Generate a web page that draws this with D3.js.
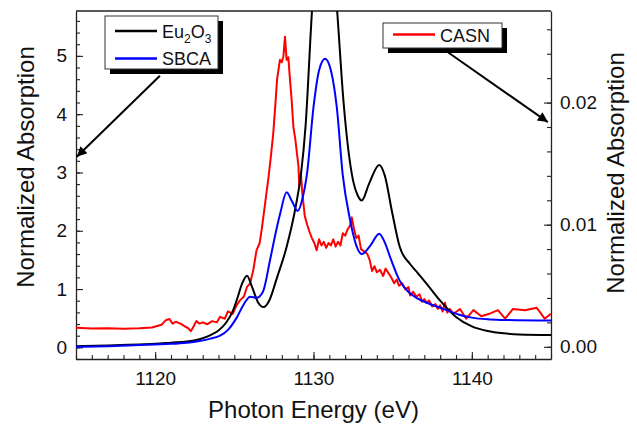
<!DOCTYPE html>
<html>
<head>
<meta charset="utf-8">
<script src="https://cdn.jsdelivr.net/npm/d3@7"></script>
<style>
  body { margin: 0; background: #fff; }
  svg { display: block; font-family: "Liberation Sans", Arial, sans-serif; }
</style>
</head>
<body>
<div id="chart"></div>
<script>
// Eu M-edge absorption: Eu2O3 and SBCA on the left axis, CASN on the right axis

const euEnergy = [1115, 1117, 1119, 1120, 1121, 1122, 1122.8, 1123.5, 1124, 1124.5, 1124.9, 1125.2, 1125.5, 1125.8,
  1126.1, 1126.5, 1126.85, 1127.2, 1127.7, 1128.3, 1128.9, 1129.2, 1129.5, 1129.9, 1130.3, 1130.7, 1131.1, 1131.5,
  1131.9, 1132.5, 1132.8, 1133.05, 1133.5, 1134.15, 1134.5, 1134.95, 1135.45, 1136.1, 1136.6, 1137.15, 1138, 1139,
  1140, 1141, 1142, 1143, 1145]
const euValue = [0.02, 0.03, 0.05, 0.06, 0.08, 0.10, 0.14, 0.21, 0.29, 0.43, 0.62, 0.85, 1.1, 1.23,
  1.05, 0.77, 0.69, 0.8, 1.2, 1.72, 2.45, 2.95, 3.8, 5.75, 7.2, 7.7, 7.2, 5.75,
  4.2, 2.86, 2.6, 2.52, 2.8, 3.13, 2.95, 2.34, 1.72, 1.43, 1.27, 1.09, 0.8, 0.52,
  0.36, 0.28, 0.24, 0.22, 0.21]

const sbcaEnergy = [1115, 1117, 1119, 1120, 1121, 1122, 1122.8, 1123.5, 1124.1, 1124.6, 1125.15, 1125.6, 1126.0,
  1126.4, 1126.8, 1127.25, 1127.6, 1127.9, 1128.3, 1128.65, 1129.0, 1129.3, 1129.6, 1130.0, 1130.35, 1130.73,
  1131.1, 1131.47, 1131.85, 1132.3, 1132.7, 1133.05, 1133.6, 1134.15, 1134.5, 1134.85, 1135.45, 1136.0, 1136.5,
  1137.2, 1138, 1139.2, 1140, 1141, 1142, 1145]
const sbcaValue = [0.01, 0.02, 0.04, 0.05, 0.06, 0.08, 0.11, 0.15, 0.2, 0.3, 0.51, 0.74, 0.87,
  0.85, 0.95, 1.49, 1.95, 2.3, 2.66, 2.5, 2.34, 2.55, 3.0, 4.12, 4.75, 4.95,
  4.75, 4.12, 2.95, 2.2, 1.75, 1.6, 1.75, 1.95, 1.8, 1.54, 1.14, 0.95, 0.85,
  0.76, 0.68, 0.56, 0.51, 0.48, 0.47, 0.46]

const casnEnergy = [1115, 1116, 1117, 1118, 1119, 1119.8, 1120.4, 1120.7, 1120.9, 1121.1, 1121.3, 1121.6, 1121.9,
  1122.1, 1122.25, 1122.4, 1122.6, 1122.8, 1123.0, 1123.3, 1123.6, 1123.9, 1124.1, 1124.4, 1124.6, 1124.9, 1125.1,
  1125.35, 1125.6, 1125.8, 1126.0, 1126.2, 1126.4, 1126.6, 1126.75, 1126.95, 1127.15, 1127.3, 1127.46, 1127.6,
  1127.7, 1127.88, 1128.0, 1128.1, 1128.2, 1128.3, 1128.41, 1128.52, 1128.62, 1128.73, 1128.85, 1128.94, 1129.05,
  1129.1, 1129.2, 1129.3, 1129.45, 1129.6, 1129.75, 1129.9, 1130.05, 1130.2, 1130.35, 1130.5, 1130.65, 1130.8,
  1130.95, 1131.1, 1131.25, 1131.4, 1131.55, 1131.7, 1131.85, 1132.0, 1132.15, 1132.3, 1132.42, 1132.55, 1132.7,
  1132.85, 1133.0, 1133.2, 1133.4, 1133.55, 1133.7, 1133.85, 1134.0, 1134.2, 1134.4, 1134.55, 1134.7, 1134.9,
  1135.1, 1135.25, 1135.4, 1135.6, 1135.8, 1136.0, 1136.1, 1136.3, 1136.5, 1136.7, 1136.85, 1137.0, 1137.15,
  1137.3, 1137.5, 1137.7, 1137.85, 1138.0, 1138.15, 1138.3, 1138.45, 1138.6, 1138.85, 1139.25, 1139.65, 1140.1,
  1140.6, 1141.1, 1141.65, 1142.1, 1142.6, 1143.35, 1144.1, 1144.6, 1145]
const casnValue = [0.00155, 0.0015, 0.00152, 0.00148, 0.00152, 0.00158, 0.0018, 0.0022, 0.00228, 0.0019, 0.00205, 0.0019, 0.00165,
  0.0015, 0.00128, 0.0016, 0.0021, 0.0019, 0.002, 0.00185, 0.0021, 0.002, 0.00245, 0.0023, 0.0029, 0.0027, 0.0033,
  0.0038, 0.0041, 0.0049, 0.0052, 0.0063, 0.0079, 0.0085, 0.0098, 0.0118, 0.0138, 0.0155, 0.0175, 0.02,
  0.0219, 0.0235, 0.0233, 0.0238, 0.0254, 0.0235, 0.0237, 0.0218, 0.0202, 0.018, 0.017, 0.016, 0.0148,
  0.0132, 0.0142, 0.0125, 0.0107, 0.01, 0.0094, 0.0089, 0.0085, 0.0079, 0.0088, 0.0083, 0.0086, 0.0081,
  0.0085, 0.0083, 0.0088, 0.0082, 0.0086, 0.0083, 0.0093, 0.0091, 0.0096, 0.0099, 0.0106, 0.0097, 0.0089,
  0.0091, 0.008, 0.0078, 0.0076, 0.0071, 0.0062, 0.0066, 0.0061, 0.0063, 0.0058, 0.0064, 0.0061, 0.0057,
  0.0052, 0.0055, 0.005, 0.0052, 0.0047, 0.0049, 0.0042, 0.0045, 0.0041, 0.0043, 0.0037, 0.0039, 0.0036,
  0.0038, 0.0033, 0.0035, 0.0031, 0.0034, 0.0029, 0.0036, 0.0028, 0.0031, 0.0027, 0.0031, 0.0023, 0.003,
  0.0025, 0.0027, 0.003, 0.0023, 0.0031, 0.003, 0.0032, 0.0023, 0.0027]

const xTicks = [1120, 1130, 1140]
const leftTicks = [0, 1, 2, 3, 4, 5]
const rightTicks = [0, 0.01, 0.02]

const W = 637, H = 425
const margin = { top: 11, right: 86, bottom: 66, left: 76 }

const x = d3.scaleLinear().domain([1115, 1145]).range([margin.left, W - margin.right])
const yL = d3.scaleLinear().domain([-0.2, 5.77]).range([H - margin.bottom, margin.top])
const yR = d3.scaleLinear().domain([-0.001, 0.0275]).range([H - margin.bottom, margin.top])

const svg = d3.select('#chart').append('svg')
    .attr('width', W)
    .attr('height', H)

svg.append('defs').append('clipPath')
    .attr('id', 'plot-clip')
    .append('rect')
    .attr('x', margin.left)
    .attr('y', margin.top)
    .attr('width', W - margin.left - margin.right)
    .attr('height', H - margin.top - margin.bottom)

svg.select('defs').append('marker')
    .attr('id', 'arrow')
    .attr('viewBox', '0 0 10 10')
    .attr('refX', 10)
    .attr('refY', 5)
    .attr('markerWidth', 7)
    .attr('markerHeight', 5)
    .attr('markerUnits', 'strokeWidth')
    .attr('orient', 'auto')
    .append('path')
    .attr('d', 'M0,0 L10,5 L0,10 Z')
    .attr('fill', '#000')

// axes: major + minor, ticks pointing inward
const bottom = H - margin.bottom
const styleAxis = g => {
  g.selectAll('.domain').attr('stroke', '#222').attr('stroke-width', 1.3)
  g.selectAll('.tick line').attr('stroke', '#222').attr('stroke-width', 1.1)
  g.selectAll('.tick text').attr('font-size', 19).attr('fill', '#111')
}

svg.append('g')
    .attr('transform', `translate(0,${bottom})`)
    .call(d3.axisBottom(x).tickValues(d3.range(1115, 1146, 1)).tickSize(-4).tickSizeOuter(0).tickFormat(''))
    .call(styleAxis)
svg.append('g')
    .attr('transform', `translate(0,${bottom})`)
    .call(d3.axisBottom(x).tickValues(xTicks).tickSize(-7).tickSizeOuter(0).tickPadding(13).tickFormat(d3.format('d')))
    .call(styleAxis)
    .call(g => g.select('.domain').remove())

svg.append('g')
    .attr('transform', `translate(${margin.left},0)`)
    .call(d3.axisLeft(yL).tickValues(d3.range(-0.2, 5.77, 0.2)).tickSize(-4).tickSizeOuter(0).tickFormat(''))
    .call(styleAxis)
svg.append('g')
    .attr('transform', `translate(${margin.left},0)`)
    .call(d3.axisLeft(yL).tickValues(leftTicks).tickSize(-7).tickSizeOuter(0).tickPadding(9).tickFormat(d3.format('d')))
    .call(styleAxis)
    .call(g => g.select('.domain').remove())

svg.append('g')
    .attr('transform', `translate(${W - margin.right},0)`)
    .call(d3.axisRight(yR).tickValues(d3.range(0, 0.0275, 0.002)).tickSize(-4).tickSizeOuter(0).tickFormat(''))
    .call(styleAxis)
svg.append('g')
    .attr('transform', `translate(${W - margin.right},0)`)
    .call(d3.axisRight(yR).tickValues(rightTicks).tickSize(-7).tickSizeOuter(0).tickPadding(9).tickFormat(d3.format('.2f')))
    .call(styleAxis)
    .call(g => g.select('.domain').remove())

// top frame line
svg.append('line')
    .attr('x1', margin.left).attr('x2', W - margin.right)
    .attr('y1', margin.top).attr('y2', margin.top)
    .attr('stroke', '#222').attr('stroke-width', 1.3)

// series
const plot = svg.append('g').attr('clip-path', 'url(#plot-clip)')

const smooth = d3.line().curve(d3.curveMonotoneX)
const plain = d3.line()

plot.append('path')
    .attr('d', plain(casnEnergy.map((e, i) => [x(e), yR(casnValue[i])])))
    .attr('fill', 'none').attr('stroke', '#ff0000').attr('stroke-width', 2).attr('stroke-linejoin', 'round')

plot.append('path')
    .attr('d', smooth(euEnergy.map((e, i) => [x(e), yL(euValue[i])])))
    .attr('fill', 'none').attr('stroke', '#000').attr('stroke-width', 2)

plot.append('path')
    .attr('d', smooth(sbcaEnergy.map((e, i) => [x(e), yL(sbcaValue[i])])))
    .attr('fill', 'none').attr('stroke', '#0000ff').attr('stroke-width', 2)

// axis titles
svg.append('text')
    .attr('transform', `translate(34,167) rotate(-90)`)
    .attr('text-anchor', 'middle')
    .attr('font-size', 24)
    .attr('fill', '#111')
    .text('Normalized Absorption')

svg.append('text')
    .attr('transform', `translate(624,173) rotate(-90)`)
    .attr('text-anchor', 'middle')
    .attr('font-size', 24)
    .attr('fill', '#111')
    .text('Normalized Absorption')

svg.append('text')
    .attr('x', (margin.left + W - margin.right) / 2)
    .attr('y', 418)
    .attr('text-anchor', 'middle')
    .attr('font-size', 24)
    .attr('fill', '#111')
    .text('Photon Energy (eV)')

// legends with drop shadow
function legendBox(x0, y0, w, h) {
  svg.append('rect').attr('x', x0 + 5).attr('y', y0 + 5).attr('width', w).attr('height', h).attr('fill', '#000')
  svg.append('rect').attr('x', x0).attr('y', y0).attr('width', w).attr('height', h)
      .attr('fill', '#fff').attr('stroke', '#333').attr('stroke-width', 1)
}

legendBox(105, 16, 113, 53)
svg.append('line').attr('x1', 115).attr('x2', 157).attr('y1', 31).attr('y2', 31)
    .attr('stroke', '#000').attr('stroke-width', 2.5)
const euLabel = svg.append('text').attr('x', 162).attr('y', 37.5).attr('font-size', 18).attr('fill', '#111')
euLabel.append('tspan').text('Eu')
euLabel.append('tspan').attr('font-size', 12).attr('dy', 5).text('2')
euLabel.append('tspan').attr('dy', -5).text('O')
euLabel.append('tspan').attr('font-size', 12).attr('dy', 5).text('3')
svg.append('line').attr('x1', 115).attr('x2', 157).attr('y1', 58.5).attr('y2', 58.5)
    .attr('stroke', '#0000ff').attr('stroke-width', 2.5)
svg.append('text').attr('x', 162).attr('y', 65).attr('font-size', 18).attr('fill', '#111').text('SBCA')

legendBox(383, 23, 119, 25)
svg.append('line').attr('x1', 393).attr('x2', 435).attr('y1', 34.5).attr('y2', 34.5)
    .attr('stroke', '#ff0000').attr('stroke-width', 2.5)
svg.append('text').attr('x', 440).attr('y', 42).attr('font-size', 18).attr('fill', '#111').text('CASN')

// arrows pointing legends to their axes
svg.append('line')
    .attr('x1', x(1120.3)).attr('y1', yL(4.66))
    .attr('x2', x(1115.05)).attr('y2', yL(3.27))
    .attr('stroke', '#000').attr('stroke-width', 2).attr('marker-end', 'url(#arrow)')

svg.append('line')
    .attr('x1', x(1138.4)).attr('y1', yR(0.0242))
    .attr('x2', x(1144.8)).attr('y2', yR(0.0184))
    .attr('stroke', '#000').attr('stroke-width', 2).attr('marker-end', 'url(#arrow)')
</script>
</body>
</html>
